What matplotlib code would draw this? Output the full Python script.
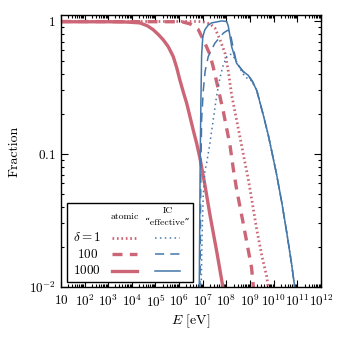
import numpy as np
import matplotlib
matplotlib.use('Agg')
import matplotlib.pyplot as plt
from matplotlib.patches import Rectangle
from matplotlib.ticker import FixedLocator, FixedFormatter, LogLocator, NullFormatter

plt.rcParams['mathtext.fontset'] = 'cm'
plt.rcParams['font.family'] = ['cmr10', 'DejaVu Serif']
plt.rcParams['axes.formatter.use_mathtext'] = True

# log10(E/eV) and fraction
# atomic channel
logE_at_1 = [1, 6.0, 6.8, 7.0, 7.3, 7.51, 7.73, 7.94, 8.06, 8.22, 8.5, 8.78, 8.92, 9.1, 9.28, 9.5, 9.7, 9.78]
f_at_1 = [0.99, 0.99, 0.99, 0.985, 0.95, 0.885, 0.72, 0.57, 0.44, 0.277, 0.155, 0.0865, 0.065, 0.042, 0.027, 0.017, 0.012, 0.0095]

logE_at_100 = [1, 6.0, 6.17, 6.46, 6.81, 7.09, 7.3, 7.44, 7.65, 7.87, 8.15, 8.29, 8.43, 8.71, 9.06, 9.15]
f_at_100 = [0.99, 0.985, 0.98, 0.95, 0.86, 0.68, 0.56, 0.45, 0.31, 0.207, 0.116, 0.077, 0.054, 0.030, 0.014, 0.0095]

logE_at_1000 = [1, 3, 3.8, 4.34, 4.65, 4.9, 5.12, 5.33, 5.54, 5.75, 5.89, 6.03, 6.18, 6.32, 6.46, 6.6, 6.74,
                6.88, 7.1, 7.3, 7.6, 7.87]
f_at_1000 = [0.985, 0.985, 0.98, 0.966, 0.92, 0.86, 0.79, 0.72, 0.64, 0.54, 0.45, 0.36, 0.29, 0.24, 0.19, 0.15, 0.12,
             0.093, 0.057, 0.035, 0.018, 0.0095]

# inverse Compton "effective"
logE_ic_1 = [6.93, 6.97, 7.02, 7.09, 7.16, 7.3, 7.44, 7.58, 7.72, 7.87, 8.02, 8.15, 8.22, 8.36, 8.57, 8.78, 9.06,
             9.28, 9.56, 9.77, 9.98, 10.12, 10.35, 10.55, 10.75, 10.9]
f_ic_1 = [0.0095, 0.025, 0.05, 0.075, 0.085, 0.12, 0.18, 0.27, 0.37, 0.47, 0.54, 0.56, 0.56, 0.52, 0.44, 0.38, 0.355,
          0.30, 0.195, 0.138, 0.092, 0.07, 0.042, 0.0255, 0.015, 0.0095]

logE_ic_100 = [6.88, 6.92, 6.95, 7.02, 7.1, 7.23, 7.51, 7.87, 8.05, 8.15, 8.23, 8.43, 8.71, 8.92, 9.1,
               9.28, 9.56, 9.77, 9.98, 10.12, 10.35, 10.55, 10.75, 10.9]
f_ic_100 = [0.0095, 0.08, 0.18, 0.30, 0.42, 0.54, 0.68, 0.81, 0.85, 0.835, 0.7, 0.48, 0.415, 0.39, 0.35,
            0.30, 0.195, 0.138, 0.092, 0.07, 0.042, 0.0255, 0.015, 0.0095]

logE_ic_1000 = [6.85, 6.89, 6.92, 6.95, 7.0, 7.09, 7.23, 7.37, 7.8, 8.01, 8.08, 8.22, 8.43, 8.71, 8.92, 9.1,
                9.28, 9.56, 9.77, 9.98, 10.12, 10.35, 10.55, 10.75, 10.9]
f_ic_1000 = [0.0095, 0.09, 0.25, 0.55, 0.76, 0.86, 0.93, 0.965, 1.0, 0.99, 0.91, 0.64, 0.48, 0.416, 0.39, 0.35,
             0.30, 0.195, 0.138, 0.092, 0.07, 0.042, 0.0255, 0.015, 0.0095]

red = '#CC6677'
blue = '#4477AA'

fig = plt.figure(figsize=(3.38, 3.38), dpi=100)
ax = fig.add_axes([0.180, 0.151, 0.770, 0.805])

E = lambda l: 10 ** np.array(l)

styles_red = {'dot': dict(ls=(0, (0.6, 1.0)), lw=2.0),
              'dash': dict(ls=(0, (3.0, 2.2)), lw=2.4),
              'solid': dict(ls='-', lw=2.4)}
styles_blue = {'dot': dict(ls=(0, (1.0, 2.2)), lw=1.1),
               'dash': dict(ls=(0, (6.0, 4.0)), lw=1.1),
               'solid': dict(ls='-', lw=1.1)}

ax.plot(E(logE_at_1), f_at_1, color=red, **styles_red['dot'])
ax.plot(E(logE_at_100), f_at_100, color=red, **styles_red['dash'])
ax.plot(E(logE_at_1000), f_at_1000, color=red, **styles_red['solid'])
ax.plot(E(logE_ic_1), f_ic_1, color=blue, **styles_blue['dot'])
ax.plot(E(logE_ic_100), f_ic_100, color=blue, **styles_blue['dash'])
ax.plot(E(logE_ic_1000), f_ic_1000, color=blue, **styles_blue['solid'])

ax.set_xscale('log')
ax.set_yscale('log')
ax.set_xlim(10, 1e12)
ax.set_ylim(0.01, 1.11)

xt = [10.0 ** k for k in range(1, 13)]
xl = ['$10$'] + ['$10^{%d}$' % k for k in range(2, 13)]
ax.xaxis.set_major_locator(FixedLocator(xt))
ax.xaxis.set_major_formatter(FixedFormatter(xl))
ax.xaxis.set_minor_locator(LogLocator(base=10, subs=np.arange(2, 10), numticks=100))
ax.xaxis.set_minor_formatter(NullFormatter())
ax.yaxis.set_major_locator(FixedLocator([0.01, 0.1, 1]))
ax.yaxis.set_major_formatter(FixedFormatter(['$10^{-2}$', '$0.1$', '$1$']))
ax.yaxis.set_minor_locator(LogLocator(base=10, subs=np.arange(2, 10), numticks=100))
ax.yaxis.set_minor_formatter(NullFormatter())

ax.tick_params(which='both', direction='in', top=True, right=True, labelsize=9.5, width=0.8)
ax.tick_params(which='major', length=5)
ax.tick_params(which='minor', length=2.5)
ax.tick_params(axis='x', pad=5)
for s in ax.spines.values():
    s.set_linewidth(1.0)

ax.set_xlabel('$E$ [eV]', fontsize=10, labelpad=2)
ax.set_ylabel('Fraction', fontsize=10, labelpad=6)

# legend box
ax.add_patch(Rectangle((0.022, 0.018), 0.487, 0.291, transform=ax.transAxes,
                       facecolor='white', edgecolor='black', lw=1.0, zorder=5))
ax.text(0.245, 0.258, 'atomic', transform=ax.transAxes, ha='center', va='center', fontsize=7, zorder=6)
ax.text(0.41, 0.279, 'IC', transform=ax.transAxes, ha='center', va='center', fontsize=7, zorder=6)
ax.text(0.41, 0.234, '\u201ceffective\u201d', transform=ax.transAxes, ha='center', va='center', fontsize=7,
        family=['cmr10', 'DejaVu Serif'], zorder=6)
rows = ['$\\delta = 1$', '$100$', '$1000$']
keys = ['dot', 'dash', 'solid']
ys = [0.181, 0.121, 0.060]
for lab, k, yy in zip(rows, keys, ys):
    ax.text(0.102, yy, lab, transform=ax.transAxes, ha='center', va='center', fontsize=9.5, zorder=6)
    ax.plot([0.195, 0.291], [yy, yy], transform=ax.transAxes, color=red, zorder=6, **styles_red[k])
    ax.plot([0.362, 0.458], [yy, yy], transform=ax.transAxes, color=blue, zorder=6, **styles_blue[k])

fig.savefig('out.png', dpi=100)
